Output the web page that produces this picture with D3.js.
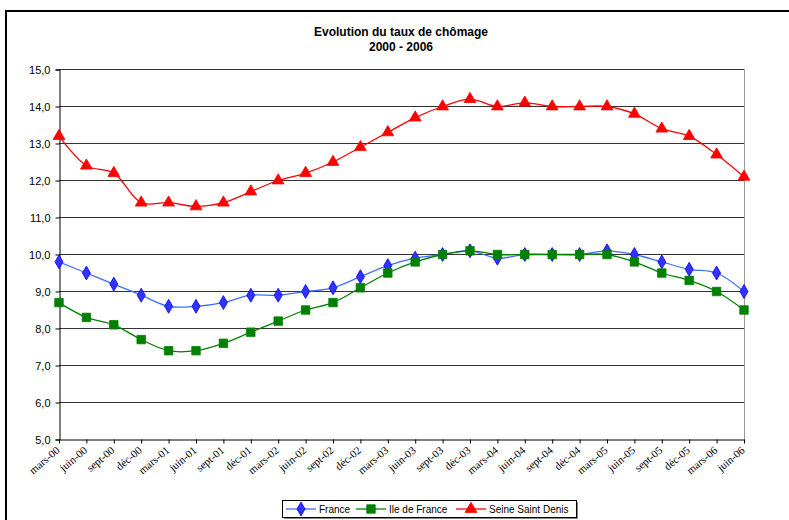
<!DOCTYPE html>
<html><head><meta charset="utf-8">
<script src="https://cdn.jsdelivr.net/npm/d3@7"></script>
<style>body{margin:0;background:#fff}svg{display:block}</style>
</head><body>
<svg id="c" width="789" height="520"></svg>
<script>
const categories = ["mars-00","juin-00","sept-00","déc-00","mars-01","juin-01","sept-01","déc-01","mars-02","juin-02","sept-02","déc-02","mars-03","juin-03","sept-03","déc-03","mars-04","juin-04","sept-04","déc-04","mars-05","juin-05","sept-05","déc-05","mars-06","juin-06"];
const france = [9.8,9.5,9.2,8.9,8.6,8.6,8.7,8.9,8.9,9.0,9.1,9.4,9.7,9.9,10.0,10.1,9.9,10.0,10.0,10.0,10.1,10.0,9.8,9.6,9.5,9.0];
const ileDeFrance = [8.7,8.3,8.1,7.7,7.4,7.4,7.6,7.9,8.2,8.5,8.7,9.1,9.5,9.8,10.0,10.1,10.0,10.0,10.0,10.0,10.0,9.8,9.5,9.3,9.0,8.5];
const seineSaintDenis = [13.2,12.4,12.2,11.4,11.4,11.3,11.4,11.7,12.0,12.2,12.5,12.9,13.3,13.7,14.0,14.2,14.0,14.1,14.0,14.0,14.0,13.8,13.4,13.2,12.7,12.1];
const yTicks = [5,6,7,8,9,10,11,12,13,14,15];
const seriesNames = ["France","Ile de France","Seine Saint Denis"];
const titleLines = ["Evolution du taux de chômage","2000 - 2006"];

const svg = d3.select("#c");
svg.append("rect").attr("width",789).attr("height",520).attr("fill","#fff");
// outer frame
svg.append("path").attr("d","M6,520V11H789").attr("fill","none").attr("stroke","#000").attr("stroke-width",2);

const x = d3.scalePoint().domain(categories).range([59,744]);
const y = d3.scaleLinear().domain([5,15]).range([439.5,69.5]);

// title
const t = svg.append("text").attr("text-anchor","middle").attr("font-family","Liberation Sans Narrow, Arial Narrow, Liberation Sans, Arial, sans-serif")
  .attr("font-weight","bold").attr("font-size",12).attr("fill","#000");
titleLines.forEach((l,i)=>t.append("tspan").attr("x",401).attr("y",36+i*15).text(l));

// gridlines
svg.append("g").selectAll("line").data(yTicks.filter(d=>d>5)).join("line")
  .attr("x1",59).attr("x2",744).attr("y1",d=>y(d)).attr("y2",d=>y(d))
  .attr("stroke","#333").attr("stroke-width",1);
// right border
svg.append("line").attr("x1",744.5).attr("x2",744.5).attr("y1",69).attr("y2",440).attr("stroke","#999").attr("stroke-width",1);

// y axis
const yAxis = d3.axisLeft(y).tickValues(yTicks).tickSize(4).tickPadding(5)
  .tickFormat(d=>d3.format(".1f")(d).replace(".",","));
const gy = svg.append("g").attr("transform","translate(59.5,0)").call(yAxis);
gy.select(".domain").attr("stroke","#000");
gy.selectAll(".tick line").attr("stroke","#000");
gy.selectAll("text").attr("font-family","Liberation Sans, Arial, sans-serif").attr("font-size",11).attr("fill","#000");

// x axis
const xAxis = d3.axisBottom(x).tickSize(4).tickSizeOuter(0);
const gx = svg.append("g").attr("transform","translate(0,439.5)").call(xAxis);
gx.select(".domain").attr("stroke","#000");
gx.selectAll(".tick line").attr("stroke","#000");
gx.selectAll("text").attr("font-family","Liberation Serif, Times New Roman, serif").attr("font-size",11).attr("fill","#000")
  .attr("text-anchor","end").attr("dy",0).attr("y",0)
  .attr("transform","translate(1,12) rotate(-40)");

// series
const series = [
  {name:seriesNames[0], values:france, line:"#3f6fff", fill:"#3333ff", stroke:"#0000ff", shape:d3.symbolDiamond, size:56},
  {name:seriesNames[1], values:ileDeFrance, line:"#008000", fill:"#008000", stroke:"#008000", shape:d3.symbolSquare, size:72},
  {name:seriesNames[2], values:seineSaintDenis, line:"#ff0000", fill:"#ff0000", stroke:"#ff0000", shape:d3.symbolTriangle, size:60}
];
const line = d3.line().x((d,i)=>x(categories[i])).y(d=>y(d)).curve(d3.curveCatmullRom.alpha(0.5));
series.forEach(s=>{
  svg.append("path").datum(s.values).attr("d",line).attr("fill","none").attr("stroke",s.line).attr("stroke-width",1.3);
  svg.append("g").selectAll("path").data(s.values).join("path")
    .attr("transform",(d,i)=>`translate(${x(categories[i])},${y(d)})`)
    .attr("d",d3.symbol(s.shape,s.size)).attr("fill",s.fill).attr("stroke",s.stroke).attr("stroke-width",0.8);
});

// legend
const lg = svg.append("g");
lg.append("rect").attr("x",284).attr("y",502).attr("width",294).attr("height",17).attr("fill","#888");
lg.append("rect").attr("x",282.5).attr("y",500.5).attr("width",294).attr("height",17).attr("fill","#fff").attr("stroke","#000");
const lx = [286,356,456];
series.forEach((s,i)=>{
  const g = lg.append("g").attr("transform",`translate(${lx[i]},509)`);
  g.append("line").attr("x1",0).attr("x2",30).attr("stroke",s.line).attr("stroke-width",1.3);
  g.append("path").attr("transform","translate(15,0)").attr("d",d3.symbol(s.shape,s.size)).attr("fill",s.fill).attr("stroke",s.stroke).attr("stroke-width",0.8);
  g.append("text").attr("x",33).attr("y",4).attr("font-family","Liberation Sans, Arial, sans-serif").attr("font-size",10).attr("fill","#000").text(s.name);
});
</script>
</body></html>
